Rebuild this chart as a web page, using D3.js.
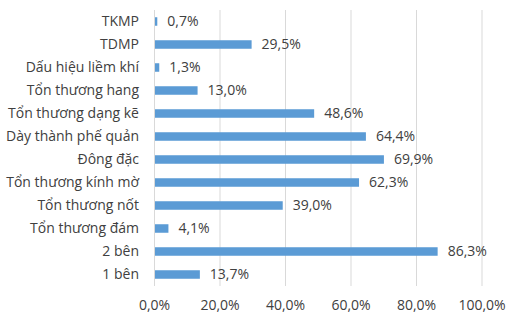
<!DOCTYPE html>
<html>
<head>
<meta charset="utf-8">
<script src="https://cdn.jsdelivr.net/npm/d3@7"></script>
<style>
  body { margin: 0; background: #fff; }
  text { font-family: "Open Sans", sans-serif; fill: #404040; }
</style>
</head>
<body>
<div id="chart"></div>
<script>
var categories = ["TKMP", "TDMP", "Dấu hiệu liềm khí", "Tổn thương hang", "Tổn thương dạng kẽ",
  "Dày thành phế quản", "Đông đặc", "Tổn thương kính mờ", "Tổn thương nốt", "Tổn thương đám", "2 bên", "1 bên"]
var values = [0.7, 29.5, 1.3, 13.0, 48.6, 64.4, 69.9, 62.3, 39.0, 4.1, 86.3, 13.7]
var ticks = [0, 20, 40, 60, 80, 100]

var margin = {top: 10, right: 30, bottom: 29, left: 154},
    width = 512 - margin.left - margin.right,
    height = 315 - margin.top - margin.bottom

var fmt = function(v) { return v.toFixed(1).replace(".", ",") + "%" }

var x = d3.scaleLinear().domain([0, 100]).range([0, 327.5])
var y = d3.scaleBand().domain(categories).range([0, height]).paddingInner(0.63).paddingOuter(0.315)

var svg = d3.select("#chart")
    .append("svg")
    .attr("width", 512)
    .attr("height", 315)
    .append("g")
      .attr("transform", "translate(" + margin.left + "," + margin.top + ")")

// vertical gridlines
svg.selectAll(".grid")
    .data(ticks)
  .enter().append("line")
    .attr("x1", function(d) { return x(d) + 0.5 })
    .attr("x2", function(d) { return x(d) + 0.5 })
    .attr("y1", 0)
    .attr("y2", height)
    .attr("stroke", "#d9d9d9")
    .attr("stroke-width", 1)

svg.selectAll(".bar")
    .data(values)
  .enter().append("rect")
    .attr("x", x(0) + 1)
    .attr("y", function(d, i) { return y(categories[i]) })
    .attr("width", function(d) { return x(d) })
    .attr("height", y.bandwidth())
    .attr("fill", "#5b9bd5")

svg.selectAll(".val")
    .data(values)
  .enter().append("text")
    .attr("x", function(d) { return x(d) + 11 })
    .attr("y", function(d, i) { return y(categories[i]) + y.bandwidth() / 2 })
    .attr("dy", "0.35em")
    .attr("font-size", 14)
    .text(fmt)

// category axis
var yAxis = svg.append("g").call(d3.axisLeft(y).tickSize(0).tickPadding(15))
yAxis.select(".domain").remove()
yAxis.selectAll("text").attr("font-size", 14).style("font-family", "'Open Sans', sans-serif").attr("fill", "#404040")

// value axis
var xAxis = svg.append("g")
    .attr("transform", "translate(0," + height + ")")
    .call(d3.axisBottom(x).tickValues(ticks).tickSize(0).tickPadding(14).tickFormat(fmt))
xAxis.select(".domain").remove()
xAxis.selectAll("text").attr("font-size", 14).style("font-family", "'Open Sans', sans-serif").attr("fill", "#404040")
</script>
</body>
</html>
